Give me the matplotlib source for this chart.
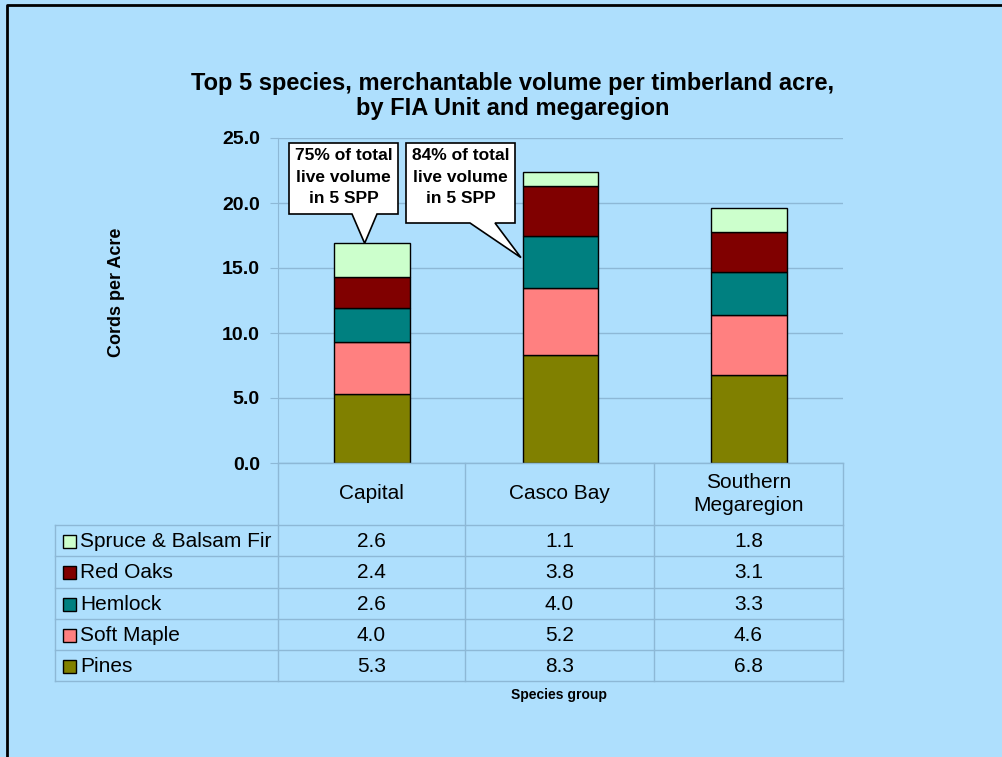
import matplotlib.pyplot as plt
from matplotlib.patches import Polygon
from matplotlib.lines import Line2D

###############################################################################
# Data
###############################################################################
units = ['Capital', 'Casco Bay', 'Southern\nMegaregion']
species = ['Pines', 'Soft Maple', 'Hemlock', 'Red Oaks', 'Spruce & Balsam Fir']
pines = [5.3, 8.3, 6.8]
softMaple = [4.0, 5.2, 4.6]
hemlock = [2.6, 4.0, 3.3]
redOaks = [2.4, 3.8, 3.1]
spruceFir = [2.6, 1.1, 1.8]
callouts = ['75% of total\nlive volume\nin 5 SPP', '84% of total\nlive volume\nin 5 SPP']
###############################################################################
# Style
###############################################################################
(W, H, DPI) = (1003, 757, 100)
BG = '#AEDFFD'
GRID = '#8DB8D6'
FONT = 'Liberation Sans'
sColors = ['#808000', '#FF8080', '#008080', '#800000', '#CCFFCC']
series = [pines, softMaple, hemlock, redOaks, spruceFir]


def fx(x):
    return x / W


def fy(y):
    return 1 - y / H


# Setup figure and axes -------------------------------------------------------
fig = plt.figure(figsize=(W / DPI, H / DPI), dpi=DPI, facecolor=BG)
(axL, axR, axT, axB) = (278, 843, 138, 463)
ax = fig.add_axes([fx(axL), fy(axB), fx(axR - axL), fy(axT) - fy(axB)])
ax.set_facecolor(BG)
ax.set_xlim(-0.5, 2.5)
ax.set_ylim(0, 25)
for s in ['top', 'right', 'bottom']:
    ax.spines[s].set_visible(False)
ax.spines['left'].set_color(GRID)
ax.set_yticks([0, 5, 10, 15, 20, 25])
ax.set_yticklabels(['{:.1f}'.format(v) for v in ax.get_yticks()],
                   fontsize=14, fontweight='bold', family=FONT)
ax.tick_params(axis='y', length=6, color=GRID, pad=7)
ax.set_xticks([])
ax.grid(axis='y', color=GRID, linewidth=1)
ax.set_axisbelow(True)
fig.text(fx(117), fy(292), 'Cords per Acre', rotation=90, ha='center',
         va='center', fontsize=13, fontweight='bold', family=FONT)
# Stacked bars ----------------------------------------------------------------
bottom = [0, 0, 0]
for (vals, col) in zip(series, sColors):
    ax.bar(range(3), vals, bottom=bottom, width=0.40, color=col,
           edgecolor='black', linewidth=1, zorder=3)
    bottom = [b + v for (b, v) in zip(bottom, vals)]
# Callouts --------------------------------------------------------------------
boxes = [(289, 398, 143, 214, 352, 377, (-0.04, bottom[0])),
         (406, 515, 143, 223, 470, 495, (0.79, 15.8))]
for (txt, (l, r, t, b, p1, p2, tipD)) in zip(callouts, boxes):
    tipF = fig.transFigure.inverted().transform(ax.transData.transform(tipD))
    poly = [(fx(l), fy(t)), (fx(r), fy(t)), (fx(r), fy(b)), (fx(p2), fy(b)),
            tuple(tipF), (fx(p1), fy(b)), (fx(l), fy(b))]
    fig.patches.append(Polygon(poly, closed=True, facecolor='white',
                               edgecolor='black', linewidth=1.2,
                               transform=fig.transFigure, zorder=5))
    fig.text(fx((l + r) / 2), fy(177), txt,
             ha='center', va='center', fontsize=12.5, fontweight='bold',
             family=FONT, linespacing=1.58, zorder=6)
# Data table ------------------------------------------------------------------
cols = [55, 278, 465, 654, 843]
rows = [463, 525, 556, 588, 619, 650, 681]
lw = 1
for y in rows[1:]:
    fig.add_artist(Line2D([fx(55), fx(843)], [fy(y), fy(y)], color=GRID, lw=lw))
fig.add_artist(Line2D([fx(278), fx(843)], [fy(463), fy(463)], color=GRID, lw=lw))
fig.add_artist(Line2D([fx(55), fx(55)], [fy(525), fy(681)], color=GRID, lw=lw))
for x in cols[1:]:
    fig.add_artist(Line2D([fx(x), fx(x)], [fy(463), fy(681)], color=GRID, lw=lw))
for (j, u) in enumerate(units):
    fig.text(fx((cols[j + 1] + cols[j + 2]) / 2), fy(494), u, ha='center',
             va='center', fontsize=15, family=FONT, linespacing=1.3)
for (k, (name, vals, col)) in enumerate(zip(species[::-1], series[::-1], sColors[::-1])):
    yc = (rows[k + 1] + rows[k + 2]) / 2
    fig.patches.append(Polygon(
        [(fx(63), fy(yc - 6)), (fx(76), fy(yc - 6)), (fx(76), fy(yc + 7)), (fx(63), fy(yc + 7))],
        closed=True, facecolor=col, edgecolor='black', linewidth=1,
        transform=fig.transFigure))
    fig.text(fx(80), fy(yc + 1), name, ha='left', va='center', fontsize=15,
             family=FONT)
    for (j, v) in enumerate(vals):
        fig.text(fx((cols[j + 1] + cols[j + 2]) / 2), fy(yc + 1), '{:.1f}'.format(v),
                 ha='center', va='center', fontsize=15, family=FONT)
fig.text(fx(559), fy(695), 'Species group', ha='center', va='center',
         fontsize=10, fontweight='bold', family=FONT)
# Title and border ------------------------------------------------------------
fig.text(fx(513), fy(96), 'Top 5 species, merchantable volume per timberland acre,\nby FIA Unit and megaregion',
         ha='center', va='center', fontsize=17, fontweight='bold',
         family=FONT, linespacing=1.1)
fig.add_artist(Line2D([fx(7), fx(7), fx(1003)], [fy(757), fy(5), fy(5)],
                      color='black', lw=2))
# Export ----------------------------------------------------------------------
fig.savefig('out.png', dpi=DPI, facecolor=BG)
